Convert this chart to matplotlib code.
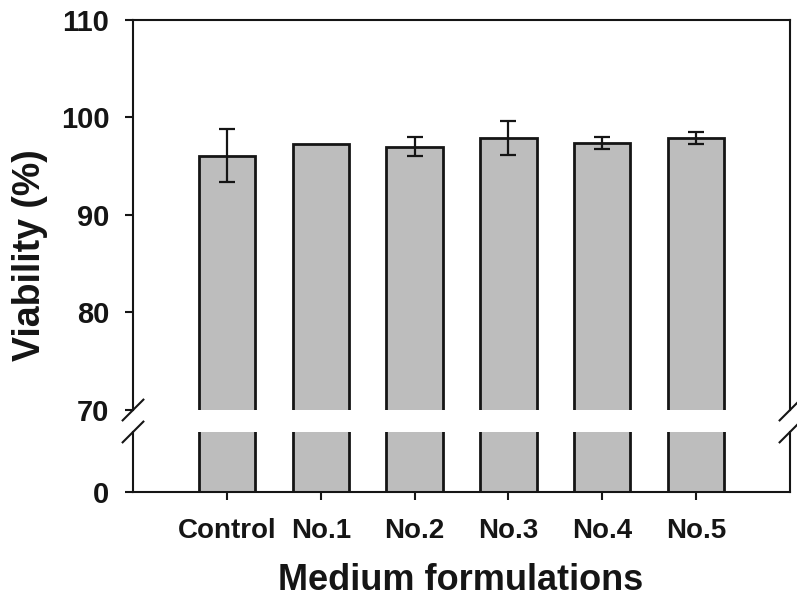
import numpy as np
import matplotlib
matplotlib.use("Agg")
import matplotlib.pyplot as plt

plt.rcParams['font.family'] = ['Liberation Sans', 'DejaVu Sans']
plt.rcParams['font.weight'] = 'bold'

# viability of cells in each medium (mean, sd)
groups = ['Control', 'No.1', 'No.2', 'No.3', 'No.4', 'No.5']
viability = [96.1, 97.3, 97.0, 97.9, 97.4, 97.9]
sd = [2.7, 0.0, 1.0, 1.7, 0.6, 0.6]

ink = '#151515'
bar_color = '#bdbdbd'

fig = plt.figure(figsize=(7.97, 6.05), dpi=100)
ax_top = fig.add_axes([0.1669, 0.3223, 0.8243, 0.6447])
ax_bot = fig.add_axes([0.1669, 0.1868, 0.8243, 0.0992])

x = np.arange(len(groups))
err = np.array(sd)
has_err = err > 0

for ax in (ax_top, ax_bot):
    ax.bar(x, viability, width=0.6, color=bar_color, edgecolor=ink, linewidth=2.0)
    ax.errorbar(x[has_err], np.array(viability)[has_err], yerr=err[has_err],
                fmt='none', ecolor=ink, elinewidth=1.6, capsize=5.5, capthick=1.6)
    ax.set_xlim(-1, 6)
    for s in ax.spines.values():
        s.set_linewidth(1.5)
        s.set_color(ink)
    ax.tick_params(axis='both', direction='out', length=6, width=1.5,
                   color=ink, labelcolor=ink)
    ax.tick_params(axis='y', labelsize=21, pad=11)

ax_top.set_ylim(70, 110)
ax_top.set_yticks([70, 80, 90, 100, 110])
ax_top.spines['bottom'].set_visible(False)
ax_top.tick_params(axis='x', bottom=False, labelbottom=False)

ax_bot.set_ylim(0, 6)
ax_bot.set_yticks([0])
ax_bot.spines['top'].set_visible(False)
ax_bot.set_xticks(x)
ax_bot.set_xticklabels(groups)
ax_bot.tick_params(axis='x', labelsize=20, pad=13)

# break marks on both spines
d = 0.013
for xs in (0.0, 1.0):
    kw = dict(transform=fig.transFigure, color=ink, lw=1.5, clip_on=False)
    xf = 0.1669 + xs * 0.8243
    for yc in (0.3223, 0.286):
        fig.add_artist(plt.Line2D([xf - d, xf + d], [yc - d * 797 / 605, yc + d * 797 / 605], **kw))

fig.text(0.038, 0.578, 'Viability (%)', rotation=90, ha='center', va='center',
         fontsize=27, color=ink)
fig.text(0.578, 0.041, 'Medium formulations', ha='center', va='center',
         fontsize=26, color=ink)

fig.savefig('out.png', dpi=100)
